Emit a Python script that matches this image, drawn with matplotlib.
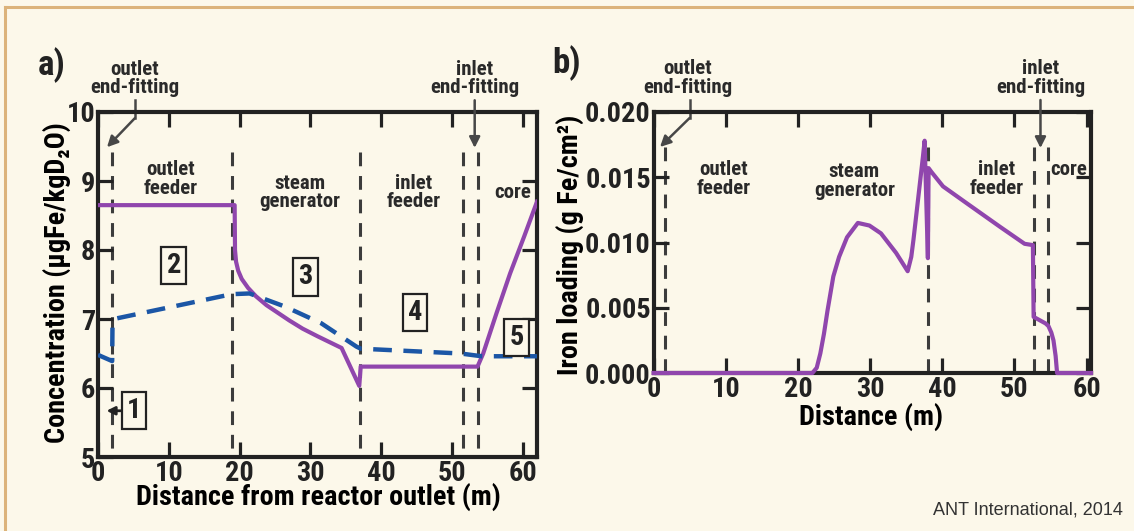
import os
import numpy as np
import matplotlib.pyplot as plt
from matplotlib import font_manager as fm
from matplotlib.ft2font import FT2Font
from matplotlib.lines import Line2D

# --- data ---
# a) concentration along the heat transport path
a_dist_purple = [0, 19.3, 19.35, 19.5, 19.8, 20.3, 21.2, 22.3, 23.8, 25.4, 27.0, 28.9,
                 31.0, 32.8, 34.4, 36.9, 37.1, 53.6, 54.4, 56.3, 58.2, 60.2, 62.0]
a_conc_purple = [8.65, 8.65, 8.00, 7.83, 7.70, 7.58, 7.45, 7.33, 7.20, 7.09, 6.98, 6.86,
                 6.75, 6.66, 6.58, 6.03, 6.31, 6.31, 6.50, 7.09, 7.66, 8.20, 8.70]
a_dist_blue = [0, 2.0, 2.05, 2.7, 18.9, 21.4, 26.4, 31.5, 36.5, 37.1, 51.2, 54.2, 62.0]
a_conc_blue = [6.48, 6.39, 6.95, 7.01, 7.36, 7.37, 7.18, 6.94, 6.60, 6.57, 6.50, 6.46, 6.46]
a_sections = [2.0, 18.9, 37.0, 51.6, 53.7]

# b) iron loading
b_dist = [0, 22.0, 22.6, 23.1, 23.6, 24.1, 24.9, 25.7, 26.8, 28.3, 29.9, 31.5, 33.6, 35.2,
          35.7, 36.0, 37.3, 37.55, 38.0, 38.1, 38.5, 40.1, 43.4, 48.0, 51.4, 52.55, 52.65,
          54.3, 54.7, 55.1, 55.4, 55.7, 55.9, 60.6]
b_load = [0, 0, 0.0004, 0.0015, 0.0030, 0.0048, 0.0074, 0.0089, 0.0104, 0.0115, 0.0113,
          0.0107, 0.0092, 0.0078, 0.0089, 0.0102, 0.0165, 0.0178, 0.0088, 0.0157, 0.0154,
          0.0143, 0.0130, 0.0112, 0.0099, 0.0098, 0.0043, 0.0038, 0.0036, 0.0031, 0.0025,
          0.0013, 0, 0]
b_sections = [1.6, 38.05, 52.7, 54.6]

a_xticks = [0, 10, 20, 30, 40, 50, 60]
a_yticks = [5, 6, 7, 8, 9, 10]
b_xticks = [0, 10, 20, 30, 40, 50, 60]
b_yticks = [0.0, 0.005, 0.010, 0.015, 0.020]

BG = '#fcf8ea'
PURPLE = '#9046ad'
BLUE = '#1b56a6'
GREY = '#3c3c3c'
INK = '#222222'
ARROW = '#474747'


# the original uses a bold condensed sans; take the narrowest bold sans that is installed
def pick_font():
    prefs = ['liberationsansnarrow-bold', 'robotocondensed-bold', 'notosans-condensedbold',
             'dejavusanscondensed-bold', 'opensans-condensedbold', 'opensanscondensed-bold',
             'liberationsans-bold', 'dejavusans-bold']
    files = {}
    for f in fm.fontManager.ttflist:
        base = os.path.splitext(os.path.basename(f.fname))[0].lower()
        files.setdefault(base, f.fname)
    for p in prefs:
        if p in files:
            return files[p]
    for base, path in files.items():
        if 'bold' in base and ('condensed' in base or 'narrow' in base) \
                and 'serif' not in base and 'mono' not in base and 'extra' not in base \
                and 'semi' not in base and 'italic' not in base:
            return path
    return fm.findfont(fm.FontProperties(family='DejaVu Sans', weight='bold'))


FONT = pick_font()
try:
    HAS_SUB = 0x2082 in FT2Font(FONT).get_charmap()
except Exception:
    HAS_SUB = False

fig = plt.figure(figsize=(11.34, 5.31), dpi=100, facecolor=BG)

# scale text so the x label of panel a spans the same width as in the original
_probe = fig.text(0, 0, 'Distance from reactor outlet (m)',
                  fontproperties=fm.FontProperties(fname=FONT, size=21))
_w = _probe.get_window_extent(fig.canvas.get_renderer()).width
_probe.remove()
SCALE = min(1.0, 365.0 / _w)


def fp(size):
    return fm.FontProperties(fname=FONT, size=size * SCALE)


ax_a = fig.add_axes([98 / 1134, 1 - 457 / 531, 439 / 1134, 345 / 531])
ax_b = fig.add_axes([653.6 / 1134, 1 - 373 / 531, 437.4 / 1134, 261 / 531])


def style(ax):
    ax.set_facecolor(BG)
    for s in ax.spines.values():
        s.set_linewidth(3.0)
        s.set_color(INK)
    ax.tick_params(direction='in', length=10.8, width=2.3, color=INK, top=True, right=True,
                   pad=2, labelcolor=INK)


txt = dict(color='#2a2a2a', ha='center', va='center', linespacing=0.95)
box = dict(boxstyle='square,pad=0.18', fc=BG, ec=INK, lw=1.6)
arr = dict(arrowstyle='-|>', color=ARROW, lw=1.8, mutation_scale=16, shrinkA=0, shrinkB=0)

# ---------- panel a ----------
style(ax_a)
for x in a_sections:
    ax_a.plot([x, x], [9.42, 5.0], color=GREY, lw=2.2, dashes=(4.5, 3.2), zorder=1)
ax_a.plot(a_dist_purple, a_conc_purple, color=PURPLE, lw=3.0, solid_joinstyle='round', zorder=3)
ax_a.plot(a_dist_blue, a_conc_blue, color=BLUE, lw=3.2, dashes=(4.2, 2.6), zorder=4)
ax_a.set_xlim(0, 62)
ax_a.set_ylim(5, 10)
ax_a.set_xticks(a_xticks, [str(v) for v in a_xticks], fontproperties=fp(21))
ax_a.set_yticks(a_yticks, [str(v) for v in a_yticks], fontproperties=fp(21))
ax_a.set_xlabel('Distance from reactor outlet (m)', fontproperties=fp(21), va='center')
ax_a.xaxis.set_label_coords(0.5025, -0.117)
ylab_a = 'Concentration (µgFe/kgD₂O)' if HAS_SUB else 'Concentration (µgFe/kgD$_2$O)'
ax_a.set_ylabel(ylab_a, fontproperties=fp(21), va='center')
ax_a.yaxis.set_label_coords(-0.093, 0.507)

ax_a.text(10.3, 9.03, 'outlet\nfeeder', fontproperties=fp(15.5), **txt)
ax_a.text(28.5, 8.83, 'steam\ngenerator', fontproperties=fp(15.5), **txt)
ax_a.text(44.6, 8.83, 'inlet\nfeeder', fontproperties=fp(15.5), **txt)
ax_a.text(58.5, 8.83, 'core', fontproperties=fp(15.5), **txt)
for lab, x, y in [('1', 5.1, 5.67), ('2', 10.7, 7.78), ('3', 29.3, 7.61),
                  ('4', 44.8, 7.09), ('5', 59.1, 6.73)]:
    ax_a.text(x, y, lab, fontproperties=fp(21), ha='center', va='center', color=INK,
              bbox=box, zorder=5)
ax_a.annotate('', xy=(1.2, 5.67), xytext=(3.2, 5.67),
              arrowprops=dict(arrowstyle='-|>', color=INK, lw=2, mutation_scale=12,
                              shrinkA=0, shrinkB=0))

ax_a.text(5.2, 10.49, 'outlet\nend-fitting', clip_on=False, fontproperties=fp(15.5), **txt)
ax_a.plot([5.2, 5.2], [10.17, 9.91], color=ARROW, lw=1.8, clip_on=False)
ax_a.annotate('', xy=(1.27, 9.49), xytext=(5.2, 9.91), arrowprops=arr, annotation_clip=False)
ax_a.text(53.2, 10.49, 'inlet\nend-fitting', clip_on=False, fontproperties=fp(15.5), **txt)
ax_a.annotate('', xy=(53.2, 9.48), xytext=(53.2, 10.17), arrowprops=arr, annotation_clip=False)

# ---------- panel b ----------
style(ax_b)
for x in b_sections:
    ax_b.plot([x, x], [0.0173, 0.0], color=GREY, lw=2.2, dashes=(4.5, 3.2), zorder=1)
ax_b.plot(b_dist, b_load, color=PURPLE, lw=3.0, solid_joinstyle='round', zorder=4, clip_on=False)
ax_b.set_xlim(0, 60.6)
ax_b.set_ylim(0, 0.020)
ax_b.set_xticks(b_xticks, [str(v) for v in b_xticks], fontproperties=fp(21))
ax_b.set_yticks(b_yticks, ['%.3f' % v for v in b_yticks], fontproperties=fp(21))
ax_b.set_xlabel('Distance (m)', fontproperties=fp(21), va='center')
ax_b.xaxis.set_label_coords(0.498, -0.168)
ax_b.set_ylabel('Iron loading (g Fe/cm²)', fontproperties=fp(21), va='center')
ax_b.yaxis.set_label_coords(-0.191, 0.49)

ax_b.text(9.7, 0.01487, 'outlet\nfeeder', fontproperties=fp(15.5), **txt)
ax_b.text(27.8, 0.01471, 'steam\ngenerator', fontproperties=fp(15.5), **txt)
ax_b.text(47.5, 0.01487, 'inlet\nfeeder', fontproperties=fp(15.5), **txt)
ax_b.text(57.5, 0.01556, 'core', fontproperties=fp(15.5), **txt)

ax_b.text(4.77, 0.0226, 'outlet\nend-fitting', clip_on=False, fontproperties=fp(15.5), **txt)
ax_b.plot([4.99, 4.99], [0.02092, 0.01954], color=ARROW, lw=1.8, clip_on=False)
ax_b.annotate('', xy=(0.89, 0.01732), xytext=(4.99, 0.01954), arrowprops=arr,
              annotation_clip=False)
ax_b.text(53.6, 0.0226, 'inlet\nend-fitting', clip_on=False, fontproperties=fp(15.5), **txt)
ax_b.annotate('', xy=(53.6, 0.01724), xytext=(53.6, 0.02092), arrowprops=arr,
              annotation_clip=False)

# panel letters, credit and frame
fig.text(52 / 1134, 1 - 65 / 531, 'a)', fontproperties=fp(26), ha='center', va='center',
         color=INK)
fig.text(566 / 1134, 1 - 63 / 531, 'b)', fontproperties=fp(26), ha='center', va='center',
         color=INK)
fig.text(1123 / 1134, 1 - 510 / 531, 'ANT International, 2014', fontsize=13,
         fontweight='normal', family=['Liberation Sans', 'DejaVu Sans'],
         ha='right', va='center', color='#333333')
fig.add_artist(Line2D([0.0044, 0.0044], [0, 0.9868], transform=fig.transFigure,
                      color='#dcb37a', lw=2.2))
fig.add_artist(Line2D([0.0044, 1], [0.9868, 0.9868], transform=fig.transFigure,
                      color='#dcb37a', lw=2.2))

fig.savefig('out.png', dpi=100, facecolor=BG)
